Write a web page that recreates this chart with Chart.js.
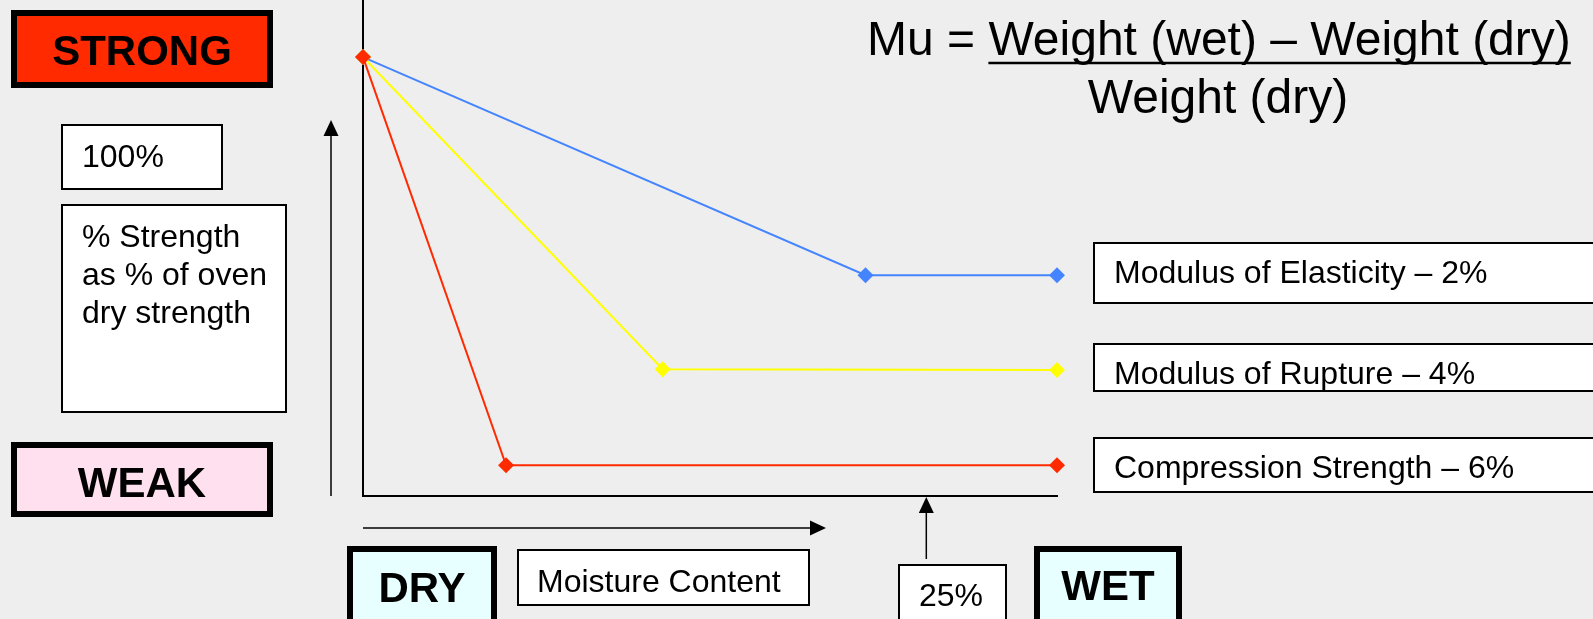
<!DOCTYPE html>
<html lang="en">
<head>
<meta charset="UTF-8">
<title>Strength vs moisture content</title>
<script src="https://cdn.jsdelivr.net/npm/chart.js"></script>
<style>
  html, body { margin: 0; padding: 0; background: #eeeeee; overflow: hidden; }
  canvas { display: block; }
</style>
</head>
<body>
<canvas id="myChart" width="1593" height="619"></canvas>
<script>
// series data: x = moisture content (%), y = strength as % of oven dry strength
const seriesLabels = ['Modulus of Elasticity – 2%', 'Modulus of Rupture – 4%', 'Compression Strength – 6%'];
const seriesColors = ['#4485ff', '#ffff00', '#ff2a00'];
const elasticityX = [0, 22.3, 30.8];
const elasticityY = [100, 50.3, 50.3];
const ruptureX = [0, 13.3, 30.8];
const ruptureY = [100, 28.9, 28.7];
const compressionX = [0, 6.35, 30.8];
const compressionY = [100, 7, 7];
const fiberSaturation = 25;

const FONT = '"Liberation Sans", Arial, Helvetica, sans-serif';

const toPoints = (xs, ys) => xs.map((x, i) => ({ x: x, y: ys[i] }));

const box = (ctx, x, y, w, h, fill, lw) => {
    ctx.fillStyle = fill;
    ctx.fillRect(x, y, w, h);
    ctx.lineWidth = lw;
    ctx.strokeStyle = '#000';
    ctx.strokeRect(x + lw / 2, y + lw / 2, w - lw, h - lw);
};

const arrow = (ctx, x1, y1, x2, y2) => {
    const a = Math.atan2(y2 - y1, x2 - x1);
    const len = 16, half = 7.5;
    ctx.strokeStyle = '#000';
    ctx.lineWidth = 1.5;
    ctx.beginPath();
    ctx.moveTo(x1, y1);
    ctx.lineTo(x2 - Math.cos(a) * len, y2 - Math.sin(a) * len);
    ctx.stroke();
    ctx.fillStyle = '#000';
    ctx.beginPath();
    ctx.moveTo(x2, y2);
    ctx.lineTo(x2 - Math.cos(a) * len - Math.sin(a) * half, y2 - Math.sin(a) * len + Math.cos(a) * half);
    ctx.lineTo(x2 - Math.cos(a) * len + Math.sin(a) * half, y2 - Math.sin(a) * len - Math.cos(a) * half);
    ctx.closePath();
    ctx.fill();
};

const text = (ctx, str, x, y, size, bold, align) => {
    ctx.font = (bold ? 'bold ' : '') + size + 'px ' + FONT;
    ctx.textAlign = align || 'left';
    ctx.textBaseline = 'alphabetic';
    ctx.fillStyle = '#000';
    ctx.fillText(str, x, y);
};

// everything around the plot: boxes, arrows, formula
const decorations = {
    id: 'decorations',
    afterDraw(chart) {
        const ctx = chart.ctx;
        const xs = chart.scales.x;
        const area = chart.chartArea;
        ctx.save();

        box(ctx, 11, 10, 262, 78, '#ff2a00', 6);
        text(ctx, 'STRONG', 142, 65, 42, true, 'center');

        box(ctx, 61, 124, 162, 66, '#ffffff', 2);
        text(ctx, '100%', 82, 167, 32);

        box(ctx, 61, 204, 226, 209, '#ffffff', 2);
        text(ctx, '% Strength', 82, 247, 32);
        text(ctx, 'as % of oven', 82, 285, 32);
        text(ctx, 'dry strength', 82, 323, 32);

        box(ctx, 11, 442, 262, 75, '#ffe0ee', 6);
        text(ctx, 'WEAK', 142, 497, 42, true, 'center');

        arrow(ctx, 331, 496, 331, 120);
        arrow(ctx, area.left, 528, 826, 528);

        box(ctx, 347, 546, 150, 80, '#e8ffff', 6);
        text(ctx, 'DRY', 422, 602, 42, true, 'center');

        box(ctx, 517, 549, 293, 57, '#ffffff', 2);
        text(ctx, 'Moisture Content', 537, 592, 32);

        const fx = xs.getPixelForValue(fiberSaturation);
        arrow(ctx, fx, 559, fx, area.bottom + 1);
        box(ctx, 898, 564, 109, 60, '#ffffff', 2);
        text(ctx, '25%', 919, 606, 32);

        box(ctx, 1034, 546, 148, 80, '#e8ffff', 6);
        text(ctx, 'WET', 1108, 600, 42, true, 'center');

        const labelBoxes = [[242, 62, 283], [343, 49, 384], [437, 56, 478]];
        labelBoxes.forEach((b, i) => {
            box(ctx, 1093, b[0], 520, b[1], '#ffffff', 2);
            text(ctx, seriesLabels[i], 1114, b[2], 32);
        });

        // Mu formula
        text(ctx, 'Mu = Weight (wet) – Weight (dry)', 867, 55, 48);
        ctx.font = '48px ' + FONT;
        const startU = 867 + ctx.measureText('Mu = ').width;
        const endU = 867 + ctx.measureText('Mu = Weight (wet) – Weight (dry)').width;
        ctx.strokeStyle = '#000';
        ctx.lineWidth = 2.5;
        ctx.beginPath();
        ctx.moveTo(startU, 63);
        ctx.lineTo(endU, 63);
        ctx.stroke();
        text(ctx, 'Weight (dry)', 1218, 113, 48, false, 'center');

        ctx.restore();
    }
};

const makeSet = (i, xs, ys, order) => ({
    label: seriesLabels[i],
    data: toPoints(xs, ys),
    borderColor: seriesColors[i],
    backgroundColor: seriesColors[i],
    borderWidth: 2,
    pointStyle: 'rectRot',
    pointRadius: 8,
    pointBorderWidth: 0,
    tension: 0,
    clip: false,
    order: order
});

new Chart(document.getElementById('myChart'), {
    type: 'line',
    data: {
        datasets: [
            makeSet(0, elasticityX, elasticityY, 2),
            makeSet(1, ruptureX, ruptureY, 1),
            makeSet(2, compressionX, compressionY, 0)
        ]
    },
    options: {
        responsive: false,
        animation: false,
        devicePixelRatio: 1,
        events: [],
        layout: { autoPadding: false, padding: { left: 363, right: 536, top: 0, bottom: 123 } },
        plugins: { legend: { display: false }, tooltip: { enabled: false } },
        scales: {
            x: {
                type: 'linear',
                min: 0,
                max: 30.8,
                grid: { display: false, drawTicks: false },
                ticks: { display: false },
                border: { display: true, color: '#000', width: 2 }
            },
            y: {
                min: 0,
                max: 113,
                grid: { display: false, drawTicks: false },
                ticks: { display: false },
                border: { display: true, color: '#000', width: 2 }
            }
        }
    },
    plugins: [decorations]
});
</script>
</body>
</html>
